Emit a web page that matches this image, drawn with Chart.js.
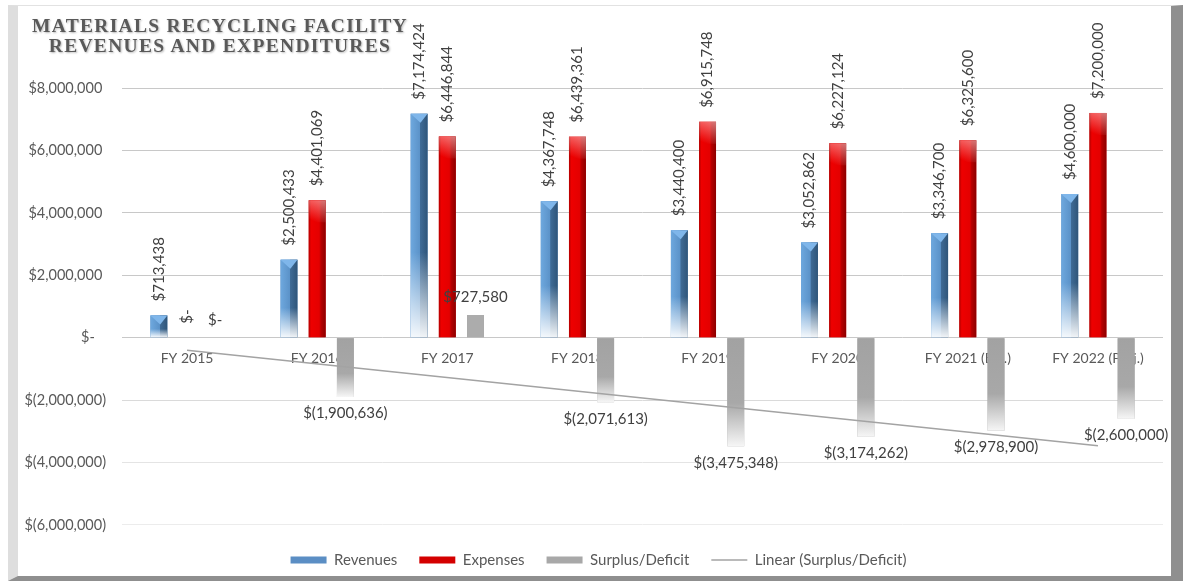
<!DOCTYPE html>
<html>
<head>
<meta charset="utf-8">
<script src="https://cdn.jsdelivr.net/npm/chart.js@4.4.1/dist/chart.umd.min.js"></script>
<style>
  html, body { margin: 0; padding: 0; background: #ffffff; }
  #wrap { position: relative; width: 1183px; height: 581px; overflow: hidden; }
  #c { position: absolute; left: 0; top: 0; }
  #frame {
    position: absolute; left: 8px; top: 5px; right: 0; bottom: 0;
    box-sizing: border-box;
    border-top: 1px solid #e2e2e2;
    border-left: 10px solid #dedede;
    border-right: 12px solid #8f8f8f;
    border-bottom: 5px solid #8f8f8f;
    pointer-events: none;
  }
  #title {
    position: absolute; left: 19px; top: 16px; width: 402px;
    text-align: center;
    font-family: "Liberation Serif", "Times New Roman", serif;
    font-weight: bold; font-size: 19.5px; line-height: 20px; letter-spacing: 1.3px;
    color: #595959;
    text-shadow: 1px 1px 2px rgba(0,0,0,0.28);
    white-space: nowrap;
  }
</style>
</head>
<body>
<div id="wrap">
  <canvas id="c" width="1183" height="581"></canvas>
  <div id="frame"></div>
  <div id="title">MATERIALS RECYCLING FACILITY<br>REVENUES AND EXPENDITURES</div>
</div>
<script>
const categories = ['FY 2015', 'FY 2016', 'FY 2017', 'FY 2018', 'FY 2019', 'FY 2020', 'FY 2021 (Est.)', 'FY 2022 (Proj.)'];
const revenues = [713438, 2500433, 7174424, 4367748, 3440400, 3052862, 3346700, 4600000];
const expenses = [0, 4401069, 6446844, 6439361, 6915748, 6227124, 6325600, 7200000];
const surplus = [0, -1900636, 727580, -2071613, -3475348, -3174262, -2978900, -2600000];
const trend = [-405000, null, null, null, null, null, null, -3463000];
const yTicks = { min: -6000000, max: 8000000, step: 2000000 };

function acct(v) {
  if (v === 0) return '$-';
  const s = Math.abs(v).toLocaleString('en-US');
  return v < 0 ? '$(' + s + ')' : '$' + s;
}
function acctTick(v) {
  if (v === 0) return '$-   ';
  return v < 0 ? acct(v) : acct(v) + ' ';
}

const barFx = {
  id: 'barFx',
  afterDatasetDraw(chart, args) {
    const meta = args.meta;
    if (meta.type !== 'bar') return;
    const di = args.index;
    const ctx = chart.ctx;
    const a = chart.chartArea;
    ctx.save();
    ctx.beginPath();
    ctx.rect(a.left, a.top, a.right - a.left, a.bottom - a.top);
    ctx.clip();
    meta.data.forEach((el) => {
      const p = el.getProps(['x', 'y', 'base', 'width'], true);
      const l = p.x - p.width / 2, r = p.x + p.width / 2, w = r - l;
      const top = Math.min(p.y, p.base), bot = Math.max(p.y, p.base);
      const h = bot - top;
      if (h < 0.5) return;
      if (di === 0) {
        const g = ctx.createLinearGradient(l, 0, r, 0);
        g.addColorStop(0, '#6ea8de');
        g.addColorStop(0.55, '#5b92c8');
        g.addColorStop(0.58, '#3f6b96');
        g.addColorStop(1, '#2f5579');
        ctx.fillStyle = g;
        ctx.fillRect(l, top, w, h);
        const bh = Math.min(9, h);
        ctx.fillStyle = '#7fb6ea';
        ctx.beginPath();
        ctx.moveTo(l, top); ctx.lineTo(r, top); ctx.lineTo(l + w * 0.58, top + bh); ctx.closePath();
        ctx.fill();
        const f = ctx.createLinearGradient(0, bot - h * 0.38, 0, bot);
        f.addColorStop(0, 'rgba(255,255,255,0)');
        f.addColorStop(1, 'rgba(255,255,255,0.93)');
        ctx.fillStyle = f;
        ctx.fillRect(l, bot - h * 0.38, w, h * 0.38);
      } else if (di === 1) {
        const g = ctx.createLinearGradient(l, 0, r, 0);
        g.addColorStop(0, '#b00000');
        g.addColorStop(0.14, '#ee0000');
        g.addColorStop(0.62, '#e40000');
        g.addColorStop(0.72, '#b80000');
        g.addColorStop(1, '#8c0000');
        ctx.fillStyle = g;
        ctx.fillRect(l, top, w, h);
        const hh = Math.min(22, h);
        const hl = ctx.createLinearGradient(r, top, l + w * 0.45, top + hh);
        hl.addColorStop(0, 'rgba(255,200,200,0.6)');
        hl.addColorStop(1, 'rgba(255,200,200,0)');
        ctx.fillStyle = hl;
        ctx.fillRect(l, top, w, hh);
      } else if (di === 2) {
        if (p.y > p.base) {
          const g = ctx.createLinearGradient(0, top, 0, bot);
          g.addColorStop(0, '#a2a2a2');
          g.addColorStop(0.6, '#a8a8a8');
          g.addColorStop(1, '#f6f6f6');
          ctx.fillStyle = g;
        } else {
          ctx.fillStyle = '#acacac';
        }
        ctx.fillRect(l, top, w, h);
      }
    });
    ctx.restore();
  }
};

const valueLabels = {
  id: 'valueLabels',
  afterDatasetsDraw(chart) {
    const ctx = chart.ctx;
    ctx.save();
    ctx.font = '15px Lato';
    ctx.fillStyle = '#404040';
    [0, 1, 2].forEach((di) => {
      const meta = chart.getDatasetMeta(di);
      const data = chart.data.datasets[di].data;
      meta.data.forEach((el, i) => {
        const v = data[i];
        const txt = acct(v);
        if (di < 2) {
          ctx.save();
          ctx.translate(el.x, el.y - 14);
          ctx.rotate(-Math.PI / 2);
          ctx.textAlign = 'left';
          ctx.textBaseline = 'middle';
          ctx.fillText(txt, 0, 0);
          ctx.restore();
        } else if (v < 0) {
          ctx.textAlign = 'center';
          ctx.textBaseline = 'top';
          ctx.fillText(txt, el.x, el.y + 9);
        } else {
          ctx.textAlign = 'center';
          ctx.textBaseline = 'bottom';
          ctx.fillText(txt, el.x, el.y - 10);
        }
      });
    });
    ctx.restore();
  }
};

function gridColor(c) {
  const v = c.tick ? c.tick.value : 0;
  if (v >= 0) return '#c8c8c8';
  if (v === -2000000) return '#dadada';
  if (v === -4000000) return '#e4e4e4';
  return '#ececec';
}

new Chart(document.getElementById('c'), {
  type: 'bar',
  data: {
    labels: categories,
    datasets: [
      { label: 'Revenues', data: revenues, backgroundColor: '#5b8ec4', pointStyle: 'rect', order: 1 },
      { label: 'Expenses', data: expenses, backgroundColor: '#d40000', pointStyle: 'rect', order: 1 },
      { label: 'Surplus/Deficit', data: surplus, backgroundColor: '#a8a8a8', pointStyle: 'rect', order: 1 },
      { type: 'line', label: 'Linear (Surplus/Deficit)', data: trend, spanGaps: true,
        borderColor: '#a3a3a3', backgroundColor: '#a3a3a3', borderWidth: 1.5,
        pointRadius: 0, pointStyle: 'line', order: 0 }
    ]
  },
  options: {
    responsive: false,
    animation: false,
    events: [],
    categoryPercentage: 0.65,
    barPercentage: 0.6,
    layout: { padding: { left: 14, right: 0, top: 88, bottom: 3.5 } },
    scales: {
      x: {
        position: { y: 0 },
        grid: { display: false },
        border: { display: false },
        ticks: { color: '#595959', font: { family: 'Lato', size: 14 }, padding: 4, maxRotation: 0, autoSkip: false }
      },
      y: {
        min: yTicks.min, max: yTicks.max,
        afterFit(scale) { scale.width = 108; },
        grid: { color: gridColor, drawTicks: false, lineWidth: 1 },
        border: { display: false },
        ticks: { stepSize: yTicks.step, color: '#595959', font: { family: 'Lato', size: 14.5 }, padding: 16,
                 callback: (v) => acctTick(v) }
      },
      yRightSpace: {
        type: 'linear', position: 'right', display: true,
        afterFit(scale) { scale.width = 20; },
        grid: { display: false, drawTicks: false },
        border: { display: false },
        ticks: { display: false }
      }
    },
    plugins: {
      title: { display: false },
      tooltip: { enabled: false },
      legend: {
        position: 'bottom',
        title: { display: true, text: ' ', font: { size: 4.6 }, padding: 0 },
        labels: {
          usePointStyle: true, pointStyleWidth: 36, boxHeight: 7, padding: 22,
          color: '#595959', font: { family: 'Lato', size: 15 },
          sort: (a, b) => a.datasetIndex - b.datasetIndex
        }
      }
    }
  },
  plugins: [barFx, valueLabels]
});
</script>
</body>
</html>
